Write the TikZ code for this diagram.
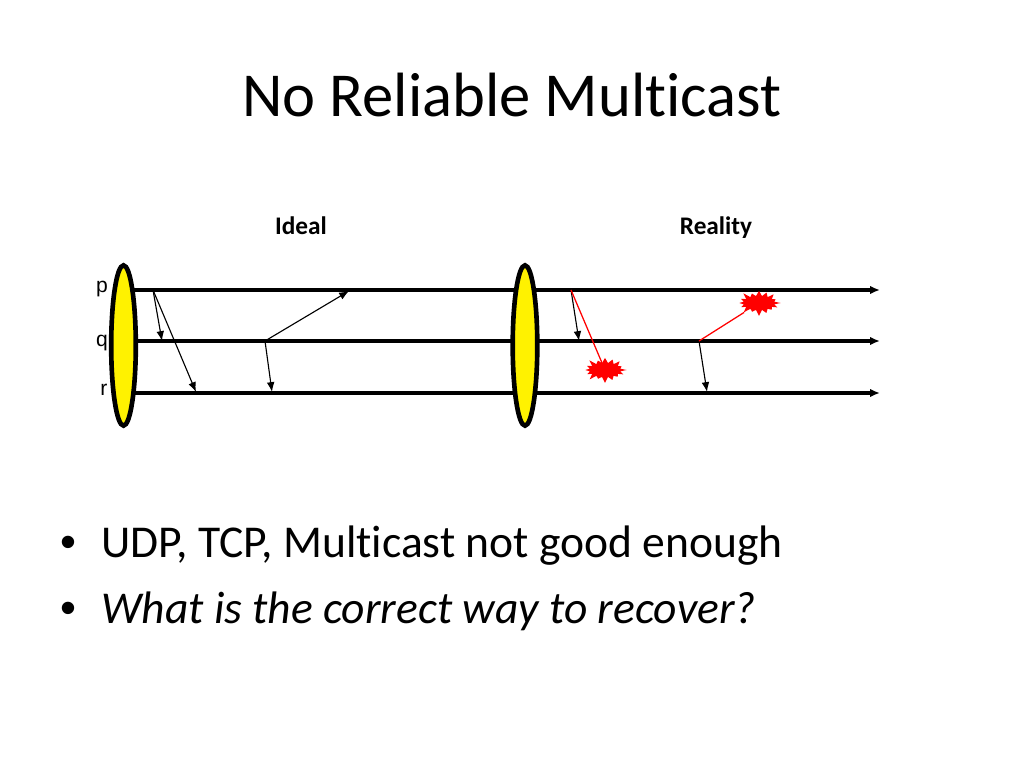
\documentclass[tikz,border=0pt]{standalone}
\usepackage{fontspec}
\usepackage{xcolor}
\usetikzlibrary{arrows.meta,shapes.geometric,shapes.symbols}
\setmainfont[RawFeature=-liga]{Carlito}
\newfontfamily\labelfont{Liberation Sans}

\begin{document}
\begin{tikzpicture}[x=0.25mm,y=0.25mm,
  timeline/.style={line width=2.3pt,-{Latex[length=7pt,width=6pt]}},
  msg/.style={line width=0.8pt,-{Latex[length=7pt,width=5.5pt]}},
  lost/.style={line width=0.9pt,red},
  member/.style={ellipse,draw=black,line width=3.3pt,fill=yellow,minimum width=17.5pt,minimum height=114pt,inner sep=0pt},
  burst/.style={starburst,starburst points=16,starburst point height=5pt,fill=red,minimum width=32pt,minimum height=20pt,inner sep=0pt},
  procname/.style={font=\labelfont\fontsize{15}{17}\selectfont,anchor=base},
  heading/.style={font=\fontsize{18}{21}\selectfont\bfseries,anchor=base},
  bullet/.style={font=\fontsize{32.4}{38}\selectfont,anchor=base west,inner sep=0pt}]
\useasboundingbox (0,0) rectangle (1024,768);

% Title
\node[font=\fontsize{44.5}{52}\selectfont,anchor=base] (title) at (512,651) {No Reliable Multicast};

% Headings
\node[heading] (ideal) at (301,533) {Ideal};
\node[heading] (reality) at (716,533) {Reality};

% Process names
\node[procname] (pname) at (102,475) {p};
\node[procname] (qname) at (102,421) {q};
\node[procname] (rname) at (104,372) {r};

% Time lines
\coordinate (pstart) at (134,478);
\coordinate (qstart) at (134,427);
\coordinate (rstart) at (134,375);
\coordinate (pend) at (880,478);
\coordinate (qend) at (880,427);
\coordinate (rend) at (880,375);
\draw[timeline] (pstart) -- (pend);
\draw[timeline] (qstart) -- (qend);
\draw[timeline] (rstart) -- (rend);

% Group members
\node[member] (left) at (123.5,422.5) {};
\node[member] (right) at (525,422.5) {};

% Ideal messages
\coordinate (a0) at (153,478);
\coordinate (a1) at (162,427);
\coordinate (a2) at (196,376);
\coordinate (b0) at (265,427);
\coordinate (b1) at (349,477);
\coordinate (b2) at (272,376);
\draw[msg] (a0) -- (a1);
\draw[msg] (a0) -- (a2);
\draw[msg] (b0) -- (b1);
\draw[msg] (b0) -- (b2);

% Reality messages
\coordinate (c0) at (571,478);
\coordinate (c1) at (579,427);
\coordinate (d0) at (699,427);
\coordinate (d1) at (707,376);
\node[burst] (lossr) at (605,398) {};
\node[burst] (lossp) at (759,465) {};
\draw[msg] (c0) -- (c1);
\draw[lost] (c0) -- (lossr);
\draw[msg] (d0) -- (d1);
\draw[lost] (d0) -- (lossp);

% Bullets
\node[bullet] (dotone) at (60,211) {\labelfont •};
\node[bullet] (lineone) at (101,211) {UDP, TCP, Multicast not good enough};
\node[bullet] (dottwo) at (60,145) {\labelfont •};
\node[bullet] (linetwo) at (101,145) {\itshape What is the correct way to recover?};
\end{tikzpicture}
\end{document}
